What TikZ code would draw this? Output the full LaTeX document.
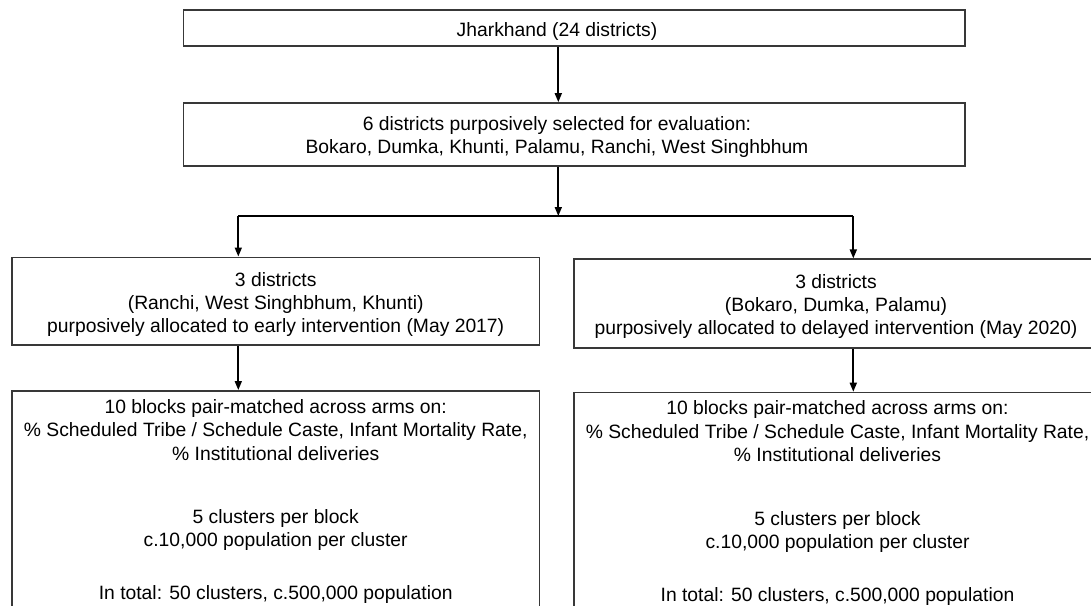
\documentclass[tikz,border=0pt]{standalone}
\usepackage{fontspec}
\setmainfont{Liberation Sans}
\usetikzlibrary{arrows.meta}
\begin{document}
\begin{tikzpicture}[x=1pt,y=-1pt,
  box/.style={draw=black!78, line width=1.7pt, rectangle, inner sep=0pt},
  txt/.style={inner sep=0pt, align=center},
  conn/.style={draw=black, line width=1.7pt},
  arr/.style={conn, -{Triangle[length=9pt,width=7pt]}}]
\useasboundingbox (0,0) rectangle (1091,605);
\clip (0,0) rectangle (1091,605);
\fontsize{19.3}{23}\selectfont
% top boxes
\node[box, minimum width=781.7pt, minimum height=35.7pt] (b1) at (574.2,27.9) {};
\node[txt] (t1) at (557,31.5) {Jharkhand (24 districts)};
\node[box, minimum width=781.7pt, minimum height=63pt] (b2) at (574.2,134.5) {};
\node[txt] (t2) at (557,137.5)
  {\fontsize{19.3}{26}\selectfont 6 districts purposively selected for evaluation:\\Bokaro, Dumka, Khunti, Palamu, Ranchi, West Singhbhum};
% arm boxes
\node[box, minimum width=527.3pt, minimum height=87.7pt] (b3L) at (275.7,301.2) {};
\node[txt] (t3L) at (275.7,304.5)
  {3 districts\\(Ranchi, West Singhbhum, Khunti)\\purposively allocated to early intervention (May 2017)};
\node[box, minimum width=527pt, minimum height=88.7pt] (b3R) at (837.5,303.6) {};
\node[txt] (t3R) at (836,306.5)
  {3 districts\\(Bokaro, Dumka, Palamu)\\purposively allocated to delayed intervention (May 2020)};
% bottom boxes (run past the page bottom)
\node[box, minimum width=527.3pt, minimum height=260pt, anchor=north] (b4L) at (275.7,390) {};
\node[box, minimum width=527pt, minimum height=260pt, anchor=north] (b4R) at (837.5,391.7) {};
\node[txt, anchor=north] (t4L) at (275.7,399)
  {10 blocks pair-matched across arms on:\\[0.5pt]
   \% Scheduled Tribe / Schedule Caste, Infant Mortality Rate,\\[0.5pt]
   \% Institutional deliveries\\[40.5pt]
   5 clusters per block\\[0pt]
   c.10,000 population per cluster\\[30pt]
   In total: 50 clusters, c.500,000 population};
\node[txt, anchor=north] (t4R) at (837.5,400.7)
  {10 blocks pair-matched across arms on:\\[0.5pt]
   \% Scheduled Tribe / Schedule Caste, Infant Mortality Rate,\\[0.5pt]
   \% Institutional deliveries\\[40.5pt]
   5 clusters per block\\[0pt]
   c.10,000 population per cluster\\[30pt]
   In total: 50 clusters, c.500,000 population};
% connectors
\coordinate (split) at (558.3,216);
\coordinate (sL) at (238.3,216);
\coordinate (sR) at (853.3,216);
\draw[arr] (b1.south -| split) -- (b2.north -| split);
\draw[arr] (b2.south -| split) -- (split);
\draw[conn] (sL) -- (sR);
\draw[arr] (sL) -- (b3L.north -| sL);
\draw[arr] (sR) -- (b3R.north -| sR);
\draw[arr] (b3L.south -| sL) -- (b4L.north -| sL);
\draw[arr] (b3R.south -| sR) -- (b4R.north -| sR);
\end{tikzpicture}
\end{document}
